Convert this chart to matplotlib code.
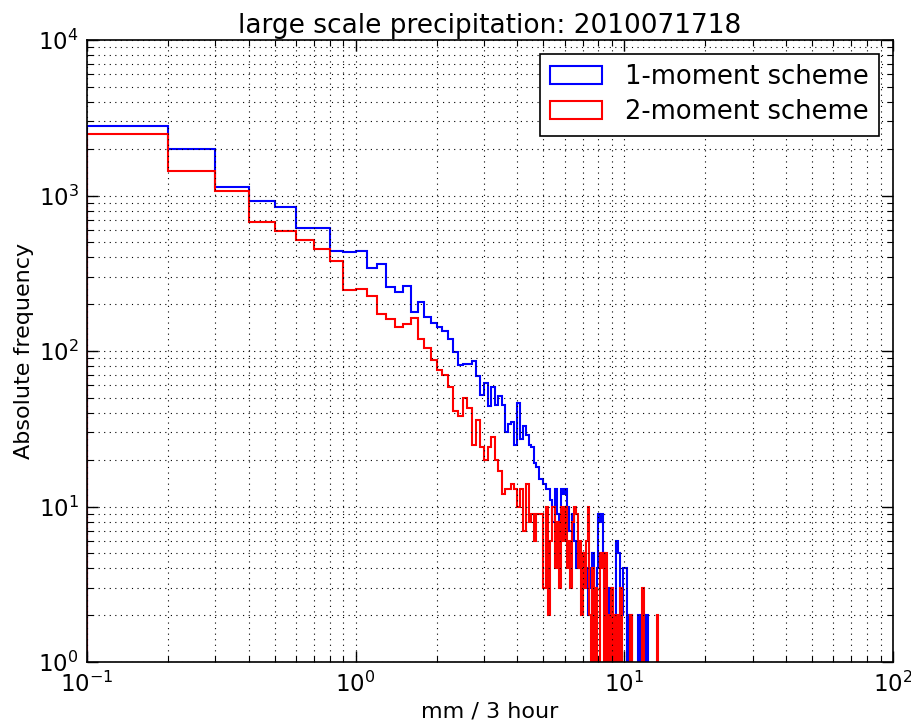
import numpy as np
import matplotlib
matplotlib.use("Agg")
import matplotlib.pyplot as plt

# Absolute frequency per 0.1 mm / 3 hour bin, first bin starts at 0.1
one_moment = [
    2810, 2000, 1130, 918, 840, 618, 618, 442, 433,
    442, 340, 361, 257, 241, 263, 179, 208, 165, 151,
    142, 135, 120, 99, 81, 82, 82, 86, 69, 52,
    62, 44, 59, 45, 51, 45, 30, 34, 35, 25,
    46, 27, 33, 29, 25, 24, 19, 18, 15, 15,
    14, 13, 13, 11, 8, 13, 9, 8, 13, 12,
    13, 10, 7, 7, 9, 6, 4, 5, 4, 4,
    3, 5, 4, 2, 4, 3, 5, 2, 3, 4,
    9, 8, 9, 4, 3, 2, 3, 2, 3, 2,
    3, 2, 2, 6, 6, 5, 2, 3, 2, 4,
    4, 4, 0, 2, 0, 2, 2, 0, 0, 0,
    0, 0, 2, 2, 0, 0, 0, 2, 2, 0,
    2, 2, 0, 0, 0, 0, 0, 0, 0, 0,
    0, 0, 0, 0, 0, 0, 0, 0, 0, 0,
]
two_moment = [
    2475, 1444, 1075, 678, 594, 517, 453, 381, 246,
    249, 227, 172, 160, 143, 150, 162, 120, 104, 88,
    76, 70, 59, 41, 38, 50, 43, 25, 36, 24,
    20, 24, 28, 20, 17, 12, 13, 13, 14, 13,
    10, 13, 7, 14, 8, 9, 6, 9, 9, 9,
    3, 10, 2, 6, 10, 4, 8, 3, 10, 6,
    10, 4, 6, 3, 8, 10, 9, 4, 6, 2,
    5, 3, 6, 10, 2, 0, 4, 0, 3, 0,
    0, 5, 4, 5, 0, 5, 0, 2, 0, 3,
    3, 0, 2, 0, 2, 0, 3, 3, 0, 0,
    0, 0, 0, 0, 0, 2, 2, 0, 0, 0,
    0, 0, 0, 0, 0, 0, 3, 3, 0, 0,
    0, 0, 0, 0, 0, 0, 0, 0, 0, 0,
    0, 0, 2, 2, 0, 0, 0, 0, 0, 0,
]
bin_width = 0.1
first_edge = 0.1
labels = ["1-moment scheme", "2-moment scheme"]
title = "large scale precipitation: 2010071718"

edges = np.round(first_edge + bin_width * np.arange(len(one_moment) + 1), 3)
centers = 0.5 * (edges[:-1] + edges[1:])

plt.rcParams["font.family"] = ["DejaVu Sans"]
plt.rcParams["font.size"] = 18
plt.rcParams["mathtext.default"] = "regular"

fig = plt.figure(figsize=(9.11, 7.28), dpi=100, facecolor="white")
ax = fig.add_axes([87 / 911, 1 - 662 / 728, (893 - 87) / 911, (662 - 40) / 728])

ax.hist(centers, bins=edges, weights=one_moment, histtype="step", log=True,
        color="#0000ff", linewidth=1.5, label=labels[0])
ax.hist(centers, bins=edges, weights=two_moment, histtype="step", log=True,
        color="#ff0000", linewidth=1.5, label=labels[1])

ax.set_xscale("log")
ax.set_xlim(0.1, 100)
ax.set_ylim(1, 1e4)

ax.grid(True, which="both", color="k", linestyle=(0, (1, 4)), linewidth=0.8)
ax.set_axisbelow(False)
ax.tick_params(which="both", direction="in", top=True, right=True)
ax.tick_params(which="major", length=8, width=1, labelsize=16.5)
ax.tick_params(axis="x", which="major", pad=7)
ax.tick_params(axis="y", which="major", pad=6)
ax.tick_params(which="minor", length=4, width=0.8)
for s in ax.spines.values():
    s.set_linewidth(1.2)

ax.set_title(title, fontsize=19, pad=5)
ax.set_xlabel("mm / 3 hour", fontsize=16, labelpad=3)
ax.set_ylabel("Absolute frequency", fontsize=16, labelpad=3)

leg = ax.legend(loc="upper right", fontsize=18.5, fancybox=False, framealpha=1,
                edgecolor="k", borderaxespad=0.55, handlelength=2.0,
                handletextpad=0.9, borderpad=0.4, labelspacing=0.35)
leg.get_frame().set_linewidth(1.2)

fig.savefig("out.png", dpi=100, facecolor="white")
